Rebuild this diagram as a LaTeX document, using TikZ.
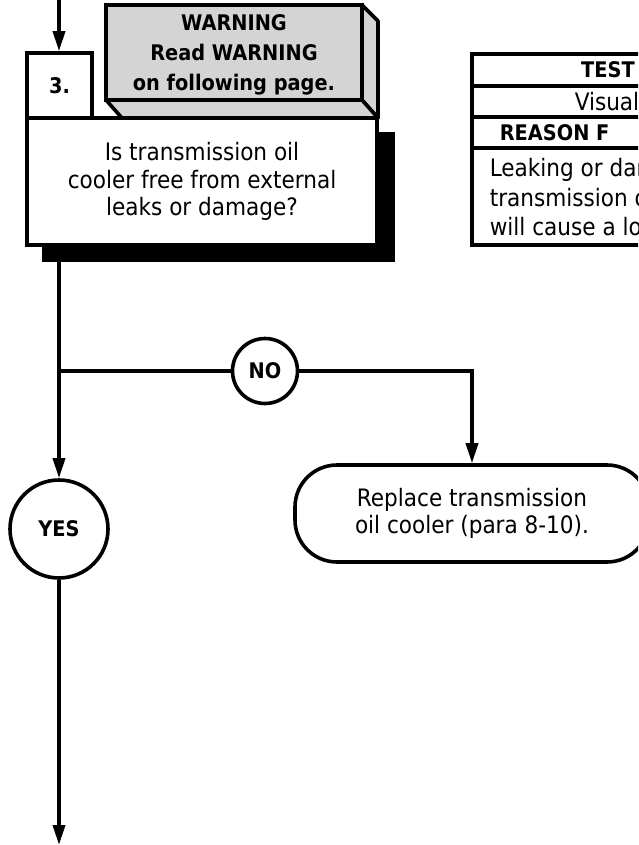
\documentclass[tikz,border=0pt]{standalone}
\usepackage{fontspec}
\setmainfont{DejaVu Sans Condensed}
\usetikzlibrary{arrows.meta, positioning, calc}

\begin{document}
\begin{tikzpicture}[x=1pt, y=-1pt, line width=3.6pt,
    arr/.style={-{Triangle[length=20pt, width=12pt]}},
    txt/.style={font=\fontsize{24}{27.5}\selectfont, align=center, inner sep=0pt},
    bld/.style={font=\fontsize{21.5}{30}\selectfont\bfseries, align=center, inner sep=0pt},
    stepbox/.style={draw, fill=white, txt, minimum width=350pt, minimum height=127pt},
    numbox/.style={draw, fill=white, bld, minimum width=65pt, minimum height=65pt},
    ans/.style={draw, circle, fill=white, bld, inner sep=0pt},
    actbox/.style={draw, fill=white, txt, rounded corners=42pt, minimum width=354pt, minimum height=97pt}]
\useasboundingbox (0,0) rectangle (638,845);
\clip (0,0) rectangle (638,845);

%% WARNING block (raised, grey)
\filldraw[fill=black!17, line join=round] (362,5) -- (378,21) -- (378,118) -- (362,100) -- cycle;
\filldraw[fill=black!17, line join=round] (106,100) -- (362,100) -- (378,118) -- (122,118) -- cycle;
\filldraw[fill=black!17] (106,5) rectangle (362,100);
\node[bld] (warn) at (234,55) {WARNING\\Read WARNING\\on following page.};

%% step 3 with drop shadow
\fill (42,132) rectangle (395,262);
\node[stepbox] (q3) at (202,181.5) {Is transmission oil\\cooler free from external\\leaks or damage?};
\node[numbox] (n3) at (59.5,85.5) {3.};

%% TEST table (cut at the right edge)
\draw (472,54) rectangle (720,245);
\foreach \y in {86,117}{ \draw (472,\y) -- (720,\y); }
\draw[line width=4.5pt] (472,148) -- (720,148);
\node[bld] (ttest) at (608,70) {TEST};
\node[txt] (tvis) at (607,102) {Visual};
\node[bld, anchor=west] (treason) at (498,133) {REASON F};
\node[txt, anchor=west] (tl1) at (488,170) {Leaking or dam};
\node[txt, anchor=west] (tl2) at (488,198) {transmission o};
\node[txt, anchor=west] (tl3) at (488,227) {will cause a lo};

%% answers
\node[ans, minimum size=65pt] (no) at (265,371) {NO};
\node[ans, minimum size=98pt] (yes) at (59,529) {YES};
\node[actbox] (repl) at (472,513.5) {Replace transmission\\oil cooler (para 8-10).};

%% connectors
\coordinate (top) at (59,0);
\coordinate (q3bot) at (59,245);
\coordinate (split) at (59,371);
\coordinate (end) at (59,845);
\draw[arr] (top) -- (n3.north -| top);
\draw (q3bot) -- (split);
\draw[arr] (split) -- (yes);
\draw (split) -- (no);
\draw[arr] (no) -| (repl);
\draw[arr] (yes) -- (end);
\end{tikzpicture}
\end{document}
